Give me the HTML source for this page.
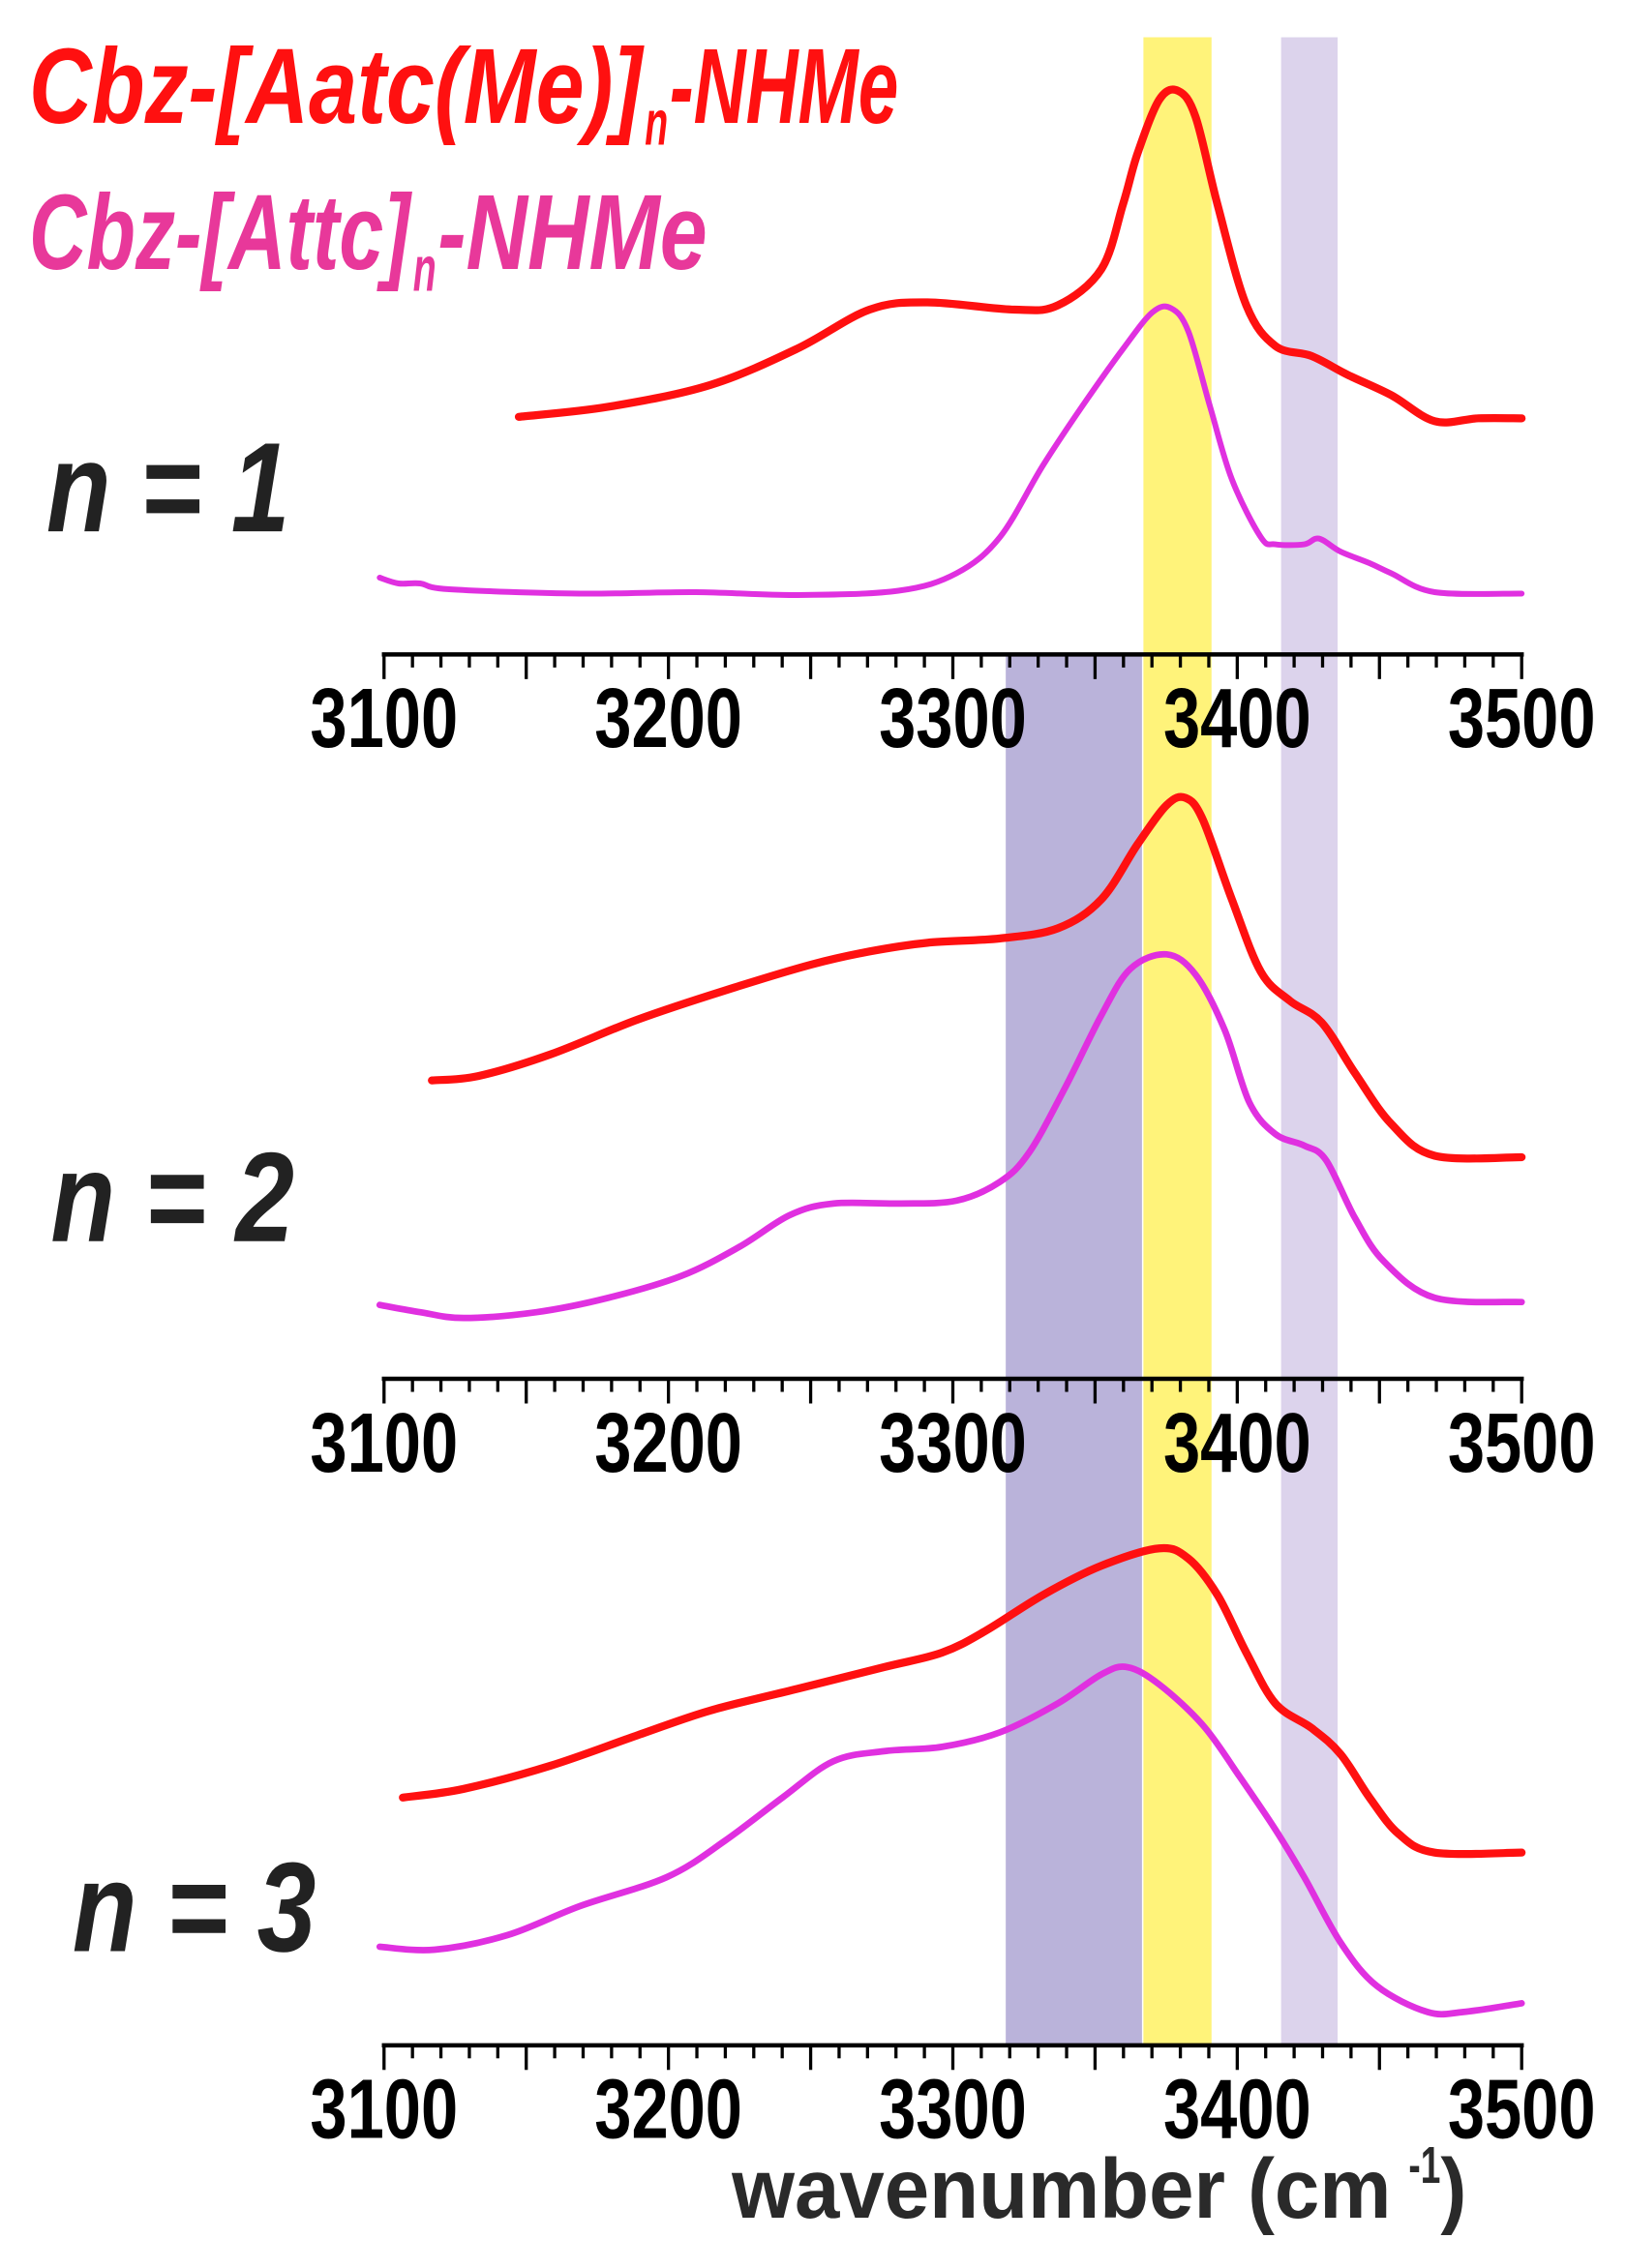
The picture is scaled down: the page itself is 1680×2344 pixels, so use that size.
<!DOCTYPE html>
<html><head><meta charset="utf-8"><style>
html,body{margin:0;padding:0;background:#fff;}
svg{display:block;}
text{font-family:"Liberation Sans",Arial,sans-serif;font-weight:bold;}
</style></head><body>
<svg id="s" width="1680" height="2344" viewBox="0 0 1122 1564" xmlns="http://www.w3.org/2000/svg">
<rect x="0" y="0" width="1122" height="1564" fill="#fff"/>
<rect x="694" y="451" width="94" height="960" fill="#bab3da"/>
<rect x="789" y="25" width="47" height="1386" fill="#fff37a"/>
<rect x="884" y="25" width="39" height="1386" fill="#dcd3ec"/>
<g id="axes"></g>
<g id="curves" fill="none" stroke-linejoin="round" stroke-linecap="round">
<polyline stroke="#ff1010" stroke-width="5.5" points="358,287 420,280 490,265 550,240 600,213 640,208 700,213 730,210 760,185 775,140 785,105 800,68 813,62 825,80 840,140 860,210 880,238 905,245 930,258 960,272 990,290 1020,288 1050,288"/>
<polyline stroke="#e030e0" stroke-width="4" points="262,398 275,402 290,402 310,406 400,409 480,408 550,410 620,407 660,395 690,370 720,320 750,275 775,240 795,215 808,212 820,228 835,280 850,330 870,370 880,375 900,375 910,371 925,380 945,388 960,395 990,408 1050,409"/>
<polyline stroke="#ff1010" stroke-width="5.5" points="298,745 330,742 380,727 440,703 500,683 560,665 600,656 640,650 690,647 730,640 760,620 785,582 805,555 818,550 830,565 850,620 870,670 890,690 912,705 935,740 960,775 990,797 1050,798"/>
<polyline stroke="#e030e0" stroke-width="4.5" points="262,900 290,905 320,909 370,905 420,895 470,880 510,860 545,838 575,830 620,830 660,828 690,815 710,795 735,750 760,700 780,668 805,658 825,672 845,710 862,760 880,782 900,790 915,800 935,840 955,870 990,895 1050,898"/>
<polyline stroke="#ff1010" stroke-width="5.5" points="278,1240 320,1234 380,1218 440,1197 490,1180 550,1165 610,1150 650,1140 680,1125 720,1100 760,1080 800,1068 820,1075 840,1100 860,1140 880,1175 905,1192 925,1210 945,1240 965,1265 990,1278 1050,1278"/>
<polyline stroke="#e030e0" stroke-width="4.5" points="262,1343 300,1345 350,1335 400,1315 460,1295 500,1270 540,1240 575,1215 610,1208 650,1205 690,1195 730,1175 760,1155 778,1150 800,1162 830,1190 855,1225 880,1262 900,1295 925,1340 950,1370 985,1388 1010,1388 1050,1382"/>
</g>
<g font-style="italic" fill="#ff1010">
<text x="20" y="84" font-size="74" textLength="423" lengthAdjust="spacingAndGlyphs">Cbz-[Aatc(Me)]</text>
<text x="445" y="99" font-size="44" textLength="16" lengthAdjust="spacingAndGlyphs">n</text>
<text x="462" y="84" font-size="74" textLength="158" lengthAdjust="spacingAndGlyphs">-NHMe</text>
</g>
<g font-style="italic" fill="#e8389a">
<text x="20" y="185" font-size="74" textLength="263" lengthAdjust="spacingAndGlyphs">Cbz-[Attc]</text>
<text x="285" y="200" font-size="44" textLength="16" lengthAdjust="spacingAndGlyphs">n</text>
<text x="302" y="185" font-size="74" textLength="186" lengthAdjust="spacingAndGlyphs">-NHMe</text>
</g>
<g font-style="italic" fill="#222" font-size="88">
<text x="32" y="366" textLength="168" lengthAdjust="spacingAndGlyphs">n = 1</text>
<text x="35" y="856" textLength="168" lengthAdjust="spacingAndGlyphs">n = 2</text>
<text x="50" y="1346" textLength="168" lengthAdjust="spacingAndGlyphs">n = 3</text>
</g>
<g fill="#2a2a2a">
<text x="505" y="1530" font-size="58" textLength="455" lengthAdjust="spacingAndGlyphs">wavenumber (cm</text>
<text x="972" y="1506" font-size="36" textLength="22" lengthAdjust="spacingAndGlyphs">-1</text>
<text x="994" y="1530" font-size="58" textLength="18" lengthAdjust="spacingAndGlyphs">)</text>
</g>
</svg>
<script>
(function(){
var g=document.getElementById('axes'),h='';
var ys=[451,951,1411];
function X(v){return 265+(v-3100)*(1050-265)/400;}
ys.forEach(function(y){
 h+='<line x1="263.5" y1="'+y+'" x2="1051.5" y2="'+y+'" stroke="#000" stroke-width="3"/>';
 for(var v=3100;v<=3500;v+=10){
  var L=(v%50==0)?17:9;
  h+='<line x1="'+X(v)+'" y1="'+y+'" x2="'+X(v)+'" y2="'+(y+L)+'" stroke="#000" stroke-width="2.2"/>';
 }
 for(var v=3100;v<=3500;v+=100){
  h+='<text x="'+(X(v)-51)+'" y="'+(y+64)+'" font-size="58" fill="#000" textLength="102" lengthAdjust="spacingAndGlyphs">'+v+'</text>';
 }
});
g.innerHTML=h;
// smooth polylines into Catmull-Rom paths
var c=document.getElementById('curves'),pls=c.querySelectorAll('polyline'),out='';
pls.forEach(function(pl){
 var p=pl.getAttribute('points').trim().split(/\s+/).map(function(s){return s.split(',').map(Number);});
 var d='M'+p[0][0]+','+p[0][1];
 for(var i=0;i<p.length-1;i++){
  var p0=p[i-1]||p[i],p1=p[i],p2=p[i+1],p3=p[i+2]||p2;
  var c1x=p1[0]+(p2[0]-p0[0])/6,c1y=p1[1]+(p2[1]-p0[1])/6;
  var c2x=p2[0]-(p3[0]-p1[0])/6,c2y=p2[1]-(p3[1]-p1[1])/6;
  d+=' C'+c1x.toFixed(1)+','+c1y.toFixed(1)+' '+c2x.toFixed(1)+','+c2y.toFixed(1)+' '+p2[0]+','+p2[1];
 }
 out+='<path d="'+d+'" stroke="'+pl.getAttribute('stroke')+'" stroke-width="'+pl.getAttribute('stroke-width')+'"/>';
});
c.innerHTML=out;
})();
</script>
</body></html>
